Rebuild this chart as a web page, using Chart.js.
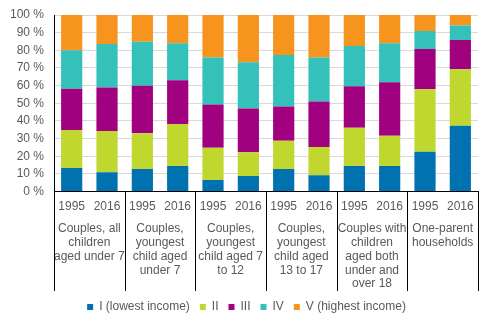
<!DOCTYPE html>
<html>
<head>
<meta charset="utf-8">
<script src="https://cdn.jsdelivr.net/npm/chart.js@4/dist/chart.umd.min.js"></script>
<style>
  html, body { margin: 0; padding: 0; background: #ffffff; }
  #wrap { width: 493px; height: 325px; position: relative; }
</style>
</head>
<body>
<div id="wrap"><canvas id="chart"></canvas></div>
<script>
// Income quintile shares (%) of families with children, by family type and year
const years = ["1995", "2016", "1995", "2016", "1995", "2016", "1995", "2016", "1995", "2016", "1995", "2016"];
const familyTypes = [
  ["Couples, all", "children", "aged under 7"],
  ["Couples,", "youngest", "child aged", "under 7"],
  ["Couples,", "youngest", "child aged 7", "to 12"],
  ["Couples,", "youngest", "child aged", "13 to 17"],
  ["Couples with", "children", "aged both", "under and", "over 18"],
  ["One-parent", "households"]
];
const seriesNames = ["I (lowest income)", "II", "III", "IV", "V (highest income)"];
const quintileI   = [13.3, 11.0, 12.8, 14.5, 6.5, 8.8, 12.8, 9.3, 14.5, 14.5, 22.5, 37.3];
const quintileII  = [21.6, 23.3, 20.3, 23.8, 18.3, 13.5, 16.0, 16.0, 21.7, 17.1, 35.4, 32.0];
const quintileIII = [23.4, 24.6, 26.9, 24.7, 24.5, 24.7, 19.4, 25.7, 23.4, 30.3, 22.9, 16.6];
const quintileIV  = [21.7, 24.7, 24.8, 21.0, 26.7, 26.3, 29.1, 25.0, 22.9, 22.1, 10.2, 8.2];
const quintileV   = [20.0, 16.4, 15.2, 16.0, 24.0, 26.7, 22.7, 24.0, 17.5, 16.0, 9.0, 5.9];
const yTicks = [0, 10, 20, 30, 40, 50, 60, 70, 80, 90, 100];

const colors = ["#0072B0", "#C0D72F", "#A1007F", "#33C1B9", "#F7941E"];
const textColor = "#595959";
const fontFamily = "'Liberation Sans', Arial, sans-serif";

// Vertical separators between family-type groups, running below the axis
const groupDividers = {
  id: "groupDividers",
  afterDraw(chart) {
    const g = chart.scales.x2;
    const area = chart.chartArea;
    const ctx = chart.ctx;
    ctx.save();
    ctx.strokeStyle = "#000000";
    ctx.lineWidth = 1;
    for (let i = 0; i <= familyTypes.length; i++) {
      const px = Math.round(g.getPixelForValue(i - 0.5)) + 0.5;
      ctx.beginPath();
      ctx.moveTo(px, area.bottom);
      ctx.lineTo(px, g.bottom);
      ctx.stroke();
    }
    ctx.restore();
  }
};

// Centre the legend on the canvas rather than on the space left of the right padding
const legendShift = {
  id: "legendShift",
  afterLayout(chart) {
    const lg = chart.legend;
    if (!lg) return;
    const dx = (chart.width - (lg.left + lg.right)) / 2;
    lg.left += dx;
    lg.right += dx;
  }
};

const series = [quintileI, quintileII, quintileIII, quintileIV, quintileV];
const datasets = series.map((d, i) => ({
  label: seriesNames[i],
  data: d,
  backgroundColor: colors[i],
  borderWidth: 0,
  categoryPercentage: 1.0,
  barPercentage: 0.6
}));

new Chart(document.getElementById("chart"), {
  type: "bar",
  data: { labels: years, datasets },
  plugins: [groupDividers, legendShift],
  options: {
    responsive: true,
    maintainAspectRatio: false,
    animation: false,
    layout: { padding: { top: 15, right: 15, bottom: 2, left: 0 } },
    plugins: {
      tooltip: { enabled: false },
      legend: {
        position: "bottom",
        labels: {
          boxWidth: 6,
          boxHeight: 6,
          padding: 10,
          color: textColor,
          font: { family: fontFamily, size: 12 }
        }
      }
    },
    scales: {
      x: {
        stacked: true,
        weight: 0,
        grid: { display: false, drawTicks: false },
        border: { display: true, color: "#000000", width: 1 },
        ticks: {
          color: textColor,
          padding: 8,
          autoSkip: false,
          maxRotation: 0,
          font: { family: fontFamily, size: 12 }
        }
      },
      x2: {
        type: "category",
        position: "bottom",
        weight: 1,
        labels: familyTypes,
        offset: true,
        grid: { display: false, drawTicks: false },
        border: { display: false },
        ticks: {
          color: textColor,
          padding: 0,
          autoSkip: false,
          maxRotation: 0,
          font: { family: fontFamily, size: 12, lineHeight: 1.15 }
        }
      },
      y: {
        stacked: true,
        min: 0,
        max: 100,
        afterBuildTicks(scale) { scale.ticks = yTicks.map(v => ({ value: v })); },
        afterFit(scale) { scale.paddingTop = 0; scale.paddingBottom = 0; },
        grid: { color: "#D9D9D9", lineWidth: 1, drawTicks: false },
        border: { display: true, color: "#000000", width: 1 },
        ticks: {
          color: textColor,
          padding: 10,
          autoSkip: false,
          font: { family: fontFamily, size: 12 },
          callback: v => v + " %"
        }
      }
    }
  }
});
</script>
</body>
</html>
